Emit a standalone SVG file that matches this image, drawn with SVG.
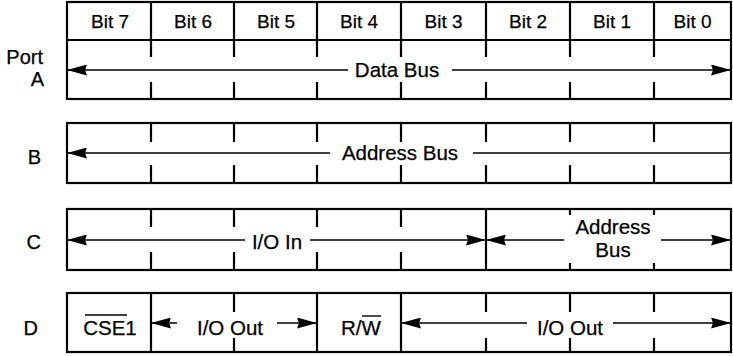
<svg xmlns="http://www.w3.org/2000/svg" width="733" height="356" viewBox="0 0 733 356">
  <style>
    text { font-family: "Liberation Sans", Arial, Helvetica, sans-serif; fill: #000; stroke: #000; stroke-width: 0.25; }
    .hdr { font-size: 19px; text-anchor: middle; }
    .lbl { font-size: 20.5px; text-anchor: middle; }
    .port { font-size: 20px; text-anchor: end; }
    .box { fill: #fff; stroke: #000; stroke-width: 2.2; }
    .div { stroke: #000; stroke-width: 2.2; }
    .tick { stroke: #000; stroke-width: 2.2; }
    .ov { stroke: #000; stroke-width: 1.4; }
    .conn { stroke: #000; stroke-width: 1.5; fill: none; }
    .ms { marker-start: url(#ah); }
    .me { marker-end: url(#ah); }
  </style>
  <defs>
    <marker id="ah" viewBox="0 0 20 11" refX="20" refY="5.5" markerWidth="20" markerHeight="11" markerUnits="userSpaceOnUse" orient="auto-start-reverse">
      <path d="M0,0 L20,5.5 L0,11 L2,5.5 z" fill="#000"/>
    </marker>
  </defs>
  <rect width="733" height="356" fill="#fff"/>

  <g id="portA">
    <rect class="box" x="67" y="2" width="664" height="97"/>
    <line class="div" x1="67" y1="40" x2="731" y2="40"/>
    <line class="div" x1="151" y1="2" x2="151" y2="40"/>
    <line class="div" x1="234" y1="2" x2="234" y2="40"/>
    <line class="div" x1="317" y1="2" x2="317" y2="40"/>
    <line class="div" x1="401" y1="2" x2="401" y2="40"/>
    <line class="div" x1="486" y1="2" x2="486" y2="40"/>
    <line class="div" x1="570" y1="2" x2="570" y2="40"/>
    <line class="div" x1="654" y1="2" x2="654" y2="40"/>
    <text class="hdr" x="110" y="28">Bit 7</text>
    <text class="hdr" x="193" y="28">Bit 6</text>
    <text class="hdr" x="276" y="28">Bit 5</text>
    <text class="hdr" x="359" y="28">Bit 4</text>
    <text class="hdr" x="443.5" y="28">Bit 3</text>
    <text class="hdr" x="528" y="28">Bit 2</text>
    <text class="hdr" x="612" y="28">Bit 1</text>
    <text class="hdr" x="692.5" y="28">Bit 0</text>
    <path class="tick" d="M151,40V57M234,40V57M317,40V57M401,40V57M486,40V57M570,40V57M654,40V57M151,82V99M234,82V99M317,82V99M401,82V99M486,82V99M570,82V99M654,82V99"/>
    <text class="port" x="43" y="64">Port</text>
    <text class="port" x="44" y="86">A</text>
    <text class="lbl" x="397" y="77">Data Bus</text>
  </g>

  <g id="portB">
    <rect class="box" x="67" y="123" width="664" height="60"/>
    <path class="tick" d="M151,123V142M234,123V142M317,123V142M401,123V142M486,123V142M570,123V142M654,123V142M151,165V183M234,165V183M317,165V183M401,165V183M486,165V183M570,165V183M654,165V183"/>
    <text class="port" x="41" y="164">B</text>
    <text class="lbl" x="400" y="160">Address Bus</text>
  </g>

  <g id="portC">
    <rect class="box" x="67" y="209" width="664" height="61"/>
    <line class="div" x1="486" y1="209" x2="486" y2="270"/>
    <path class="tick" d="M151,209V227M234,209V227M317,209V227M401,209V227M151,252V270M234,252V270M317,252V270M401,252V270M570,209V215M654,209V215M570,263V270M654,263V270"/>
    <text class="port" x="41" y="249">C</text>
    <text class="lbl" x="277" y="249">I/O In</text>
    <text class="lbl" x="613" y="234">Address</text>
    <text class="lbl" x="613" y="257">Bus</text>
  </g>

  <g id="portD">
    <rect class="box" x="67" y="293" width="664" height="59"/>
    <line class="div" x1="151" y1="293" x2="151" y2="352"/>
    <line class="div" x1="317" y1="293" x2="317" y2="352"/>
    <line class="div" x1="401" y1="293" x2="401" y2="352"/>
    <path class="tick" d="M234,293V312M486,293V312M570,293V312M654,293V312M234,338V352M486,338V352M570,338V352M654,338V352"/>
    <text class="port" x="38" y="335">D</text>
    <text class="lbl" x="110" y="335">CSE1</text>
    <line class="ov" x1="85" y1="315" x2="127" y2="315"/>
    <text class="lbl" x="230" y="335">I/O Out</text>
    <text class="lbl" x="361" y="335">R/W</text>
    <line class="ov" x1="362" y1="316" x2="381" y2="316"/>
    <text class="lbl" x="570" y="335">I/O Out</text>
  </g>

  <g id="connectors">
    <line class="conn ms" x1="67" y1="70" x2="348" y2="70"/>
    <line class="conn me" x1="452" y1="70" x2="731" y2="70"/>
    <line class="conn ms" x1="67" y1="153" x2="330" y2="153"/>
    <line class="conn" x1="473" y1="153" x2="731" y2="153"/>
    <line class="conn ms" x1="67" y1="240" x2="245" y2="240"/>
    <line class="conn me" x1="310" y1="240" x2="486" y2="240"/>
    <line class="conn ms" x1="486" y1="240" x2="564" y2="240"/>
    <line class="conn me" x1="661" y1="240" x2="731" y2="240"/>
    <line class="conn ms" x1="151" y1="323" x2="177" y2="323"/>
    <line class="conn me" x1="277" y1="323" x2="317" y2="323"/>
    <line class="conn ms" x1="401" y1="323" x2="527" y2="323"/>
    <line class="conn me" x1="613" y1="323" x2="731" y2="323"/>
  </g>
</svg>
